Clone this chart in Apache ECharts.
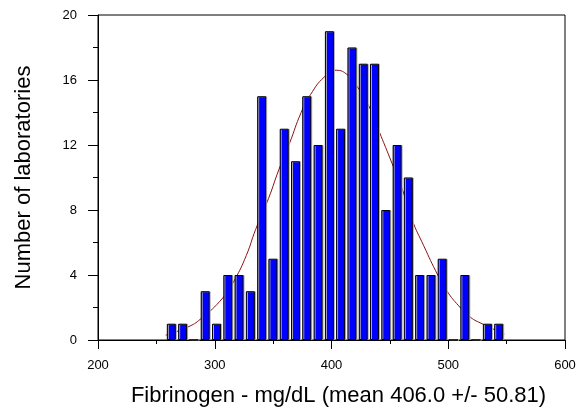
<!DOCTYPE html>
<html>
<head>
<meta charset="utf-8">
<script src="https://cdn.jsdelivr.net/npm/echarts@6/dist/echarts.min.js"></script>
<style>
  html, body { margin: 0; padding: 0; background: #fff; }
  #main { width: 581px; height: 412px; }
</style>
</head>
<body>
<div id="main"></div>
<script>
// bin centres (mg/dL) and lab counts
const binCenters = [262.8, 272.5, 282.1, 291.8, 301.5, 311.2, 320.8, 330.5, 340.2, 349.8,
  359.5, 369.2, 378.8, 388.5, 398.2, 407.8, 417.5, 427.2, 436.8, 446.5,
  456.2, 465.8, 475.5, 485.2, 494.8, 504.5, 514.2, 523.8, 533.5, 543.2]
const labCounts = [1, 1, 0, 3, 1, 4, 4, 3, 15, 5,
  13, 11, 15, 12, 19, 13, 18, 17, 17, 8,
  12, 10, 4, 4, 5, 0, 4, 0, 1, 1]

// fitted normal curve
const curveX = [258, 277, 288, 307, 317, 327, 335, 346, 355, 364, 374, 382, 394, 404,
  414, 422, 432, 441, 450, 461, 469, 479, 491, 499, 509, 519, 529, 548]
const curveY = [0.3, 0.8, 1.3, 2.6, 3.7, 5.2, 6.8, 8.7, 10.5, 12.1, 14.0, 15.1, 16.2, 16.6,
  16.3, 15.6, 14.4, 12.8, 11.2, 9.2, 7.4, 5.8, 4.0, 3.0, 2.1, 1.4, 1.0, 0.37]

const xTicks = [200, 600, 100]   // min, max, step
const yTicks = [0, 20, 4]

const font = 'Liberation Sans, Arial, sans-serif'

var chart = echarts.init(document.getElementById('main'))
chart.setOption({
  animation: false,
  grid: {
    left: 98, right: 16, top: 15, bottom: 71,
    show: true, borderColor: '#000', borderWidth: 1, backgroundColor: 'transparent'
  },
  xAxis: {
    type: 'value',
    min: xTicks[0], max: xTicks[1], interval: xTicks[2],
    name: 'Fibrinogen - mg/dL (mean 406.0 +/- 50.81)',
    nameLocation: 'middle',
    nameGap: 45,
    nameTextStyle: { fontFamily: font, fontSize: 22, color: '#000', padding: [0, 0, 0, 14] },
    axisLine: { lineStyle: { color: '#000', width: 1 } },
    axisTick: { length: 9, lineStyle: { color: '#000' } },
    minorTick: { show: true, splitNumber: 2, length: 4, lineStyle: { color: '#000' } },
    splitLine: { show: false },
    axisLabel: { fontFamily: font, fontSize: 13, color: '#000', margin: 19 }
  },
  yAxis: {
    type: 'value',
    min: yTicks[0], max: yTicks[1], interval: yTicks[2],
    name: 'Number of laboratories',
    nameLocation: 'middle',
    nameGap: 63,
    nameTextStyle: { fontFamily: font, fontSize: 22, color: '#000' },
    axisLine: { show: true, lineStyle: { color: '#000', width: 1 } },
    axisTick: { show: true, length: 10, lineStyle: { color: '#000' } },
    minorTick: { show: true, splitNumber: 2, length: 5, lineStyle: { color: '#000' } },
    splitLine: { show: false },
    axisLabel: { fontFamily: font, fontSize: 13, color: '#000', margin: 21 }
  },
  series: [
    {
      type: 'line',
      z: 1,
      smooth: true,
      showSymbol: false,
      lineStyle: { color: '#8b1111', width: 1 },
      data: curveX.map((x, i) => [x, curveY[i]])
    },
    {
      type: 'bar',
      z: 2,
      barWidth: 9,
      itemStyle: {
        color: '#0000ff',
        borderColor: '#000',
        borderWidth: 1,
        shadowColor: '#b0b0b0',
        shadowOffsetX: 1,
        shadowBlur: 0
      },
      data: binCenters.map((x, i) => [x, labCounts[i]])
    }
  ]
})
</script>
</body>
</html>
